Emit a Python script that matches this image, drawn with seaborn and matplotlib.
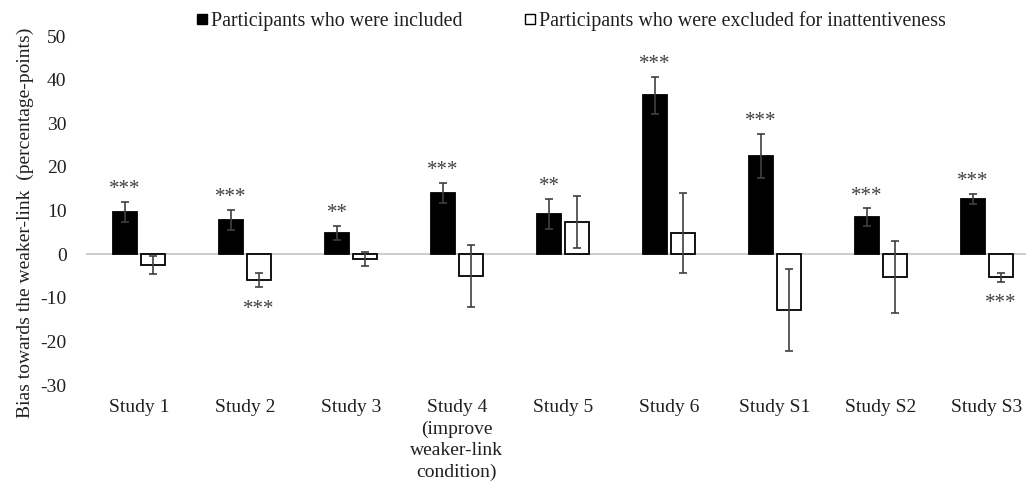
import matplotlib
matplotlib.use('Agg')
import matplotlib.pyplot as plt
from matplotlib.lines import Line2D
import numpy as np
import pandas as pd
import seaborn as sns

studies = ['Study 1', 'Study 2', 'Study 3', 'Study 4\n(improve\nweaker-link\ncondition)',
           'Study 5', 'Study 6', 'Study S1', 'Study S2', 'Study S3']
groups = ['Participants who were included', 'Participants who were excluded for inattentiveness']

included = [9.6, 7.8, 4.8, 14.0, 9.2, 36.4, 22.5, 8.5, 12.6]
included_err = [2.3, 2.3, 1.6, 2.3, 3.4, 4.2, 5.0, 2.0, 1.2]
excluded = [-2.5, -6.0, -1.2, -5.0, 7.3, 4.8, -12.8, -5.2, -5.3]
excluded_err = [2.1, 1.6, 1.6, 7.2, 6.0, 9.2, 9.3, 8.2, 1.0]

included_stars = ['***', '***', '**', '***', '**', '***', '***', '***', '***']
excluded_stars = ['', '***', '', '', '', '', '', '', '***']

df = pd.DataFrame({
    'study': studies * 2,
    'group': [groups[0]] * len(studies) + [groups[1]] * len(studies),
    'value': included + excluded,
})

sns.set_style('white')
plt.rcParams['font.family'] = ['Liberation Serif', 'DejaVu Serif']
plt.rcParams['axes.unicode_minus'] = False

fig = plt.figure(figsize=(10.26, 4.84), dpi=100)
ax = fig.add_axes([0.0838, 0.2045, 0.9298, 0.721])

ax.axhline(0, color='#c8c8c8', lw=1.3, zorder=0)
sns.barplot(data=df, x='study', y='value', hue='group', order=studies, hue_order=groups,
            palette={groups[0]: 'black', groups[1]: 'white'}, width=0.52, gap=0.13,
            edgecolor='black', linewidth=1.3, errorbar=None, legend=False, ax=ax, zorder=2)

err_lists = [included_err, excluded_err]
star_lists = [included_stars, excluded_stars]
for cont, errs, stars in zip(ax.containers, err_lists, star_lists):
    for bar, e, s in zip(cont, errs, stars):
        xc = bar.get_x() + bar.get_width() / 2
        v = bar.get_height() if bar.get_y() == 0 else bar.get_y()
        ax.errorbar(xc, v, yerr=e, color='#404040', lw=1.2, capsize=2.9, capthick=1.2, zorder=3)
        if s:
            if v >= 0:
                ax.annotate(s, (xc, v + e), xytext=(0, 2), textcoords='offset points',
                            ha='center', va='bottom', fontsize=15, color='#404040')
            else:
                ax.annotate(s, (xc, v - e), xytext=(0, -9), textcoords='offset points',
                            ha='center', va='top', fontsize=15, color='#404040')

ax.set_ylim(-30, 50)
ax.set_yticks(np.arange(-30, 51, 10))
ax.set_xlim(-0.5, len(studies) - 0.5)
ax.tick_params(axis='both', length=0, labelsize=14, colors='#202020')
ax.tick_params(axis='y', pad=14)
ax.tick_params(axis='x', pad=10)
for lbl in ax.get_xticklabels():
    lbl.set_linespacing(1.35)
ax.set_xlabel('')
ax.set_ylabel('Bias towards the weaker-link  (percentage-points)', fontsize=14, color='#202020')
ax.yaxis.set_label_coords(-0.0545, 0.464)
for sp in ax.spines.values():
    sp.set_visible(False)

handles = [Line2D([], [], marker='s', ls='', markersize=6.5, markerfacecolor='black',
                  markeredgecolor='black'),
           Line2D([], [], marker='s', ls='', markersize=6.5, markerfacecolor='white',
                  markeredgecolor='black', markeredgewidth=1)]
fig.legend(handles, groups, loc='center', bbox_to_anchor=(0.557, 0.957), ncol=2, frameon=False,
           fontsize=14.4, handlelength=0.5, handletextpad=0.2, columnspacing=3.1,
           labelcolor='#202020')

fig.savefig('out.png', dpi=100)
